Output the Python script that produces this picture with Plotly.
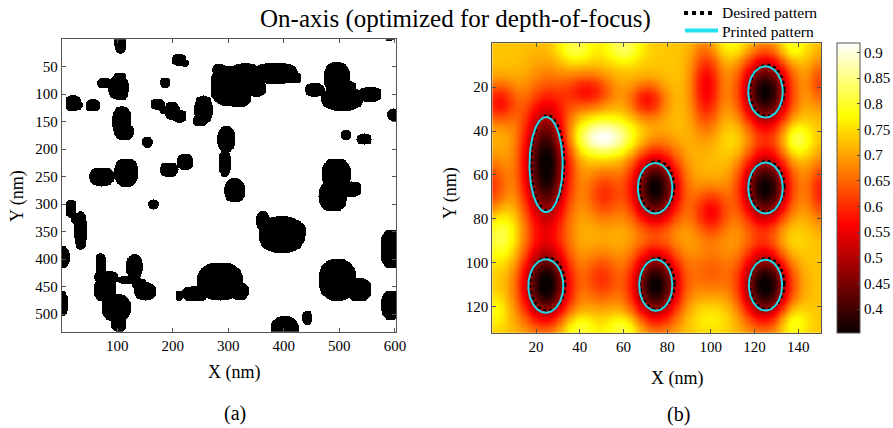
import numpy as np
import plotly.graph_objects as go

W, H = 893, 428

# ---------------- (a) binary mask: blobs as unions of rounded ellipses (nm) ----------------
blob_cx = [105.5, 211, 222, 185.5,
           102, 104, 76, 110,
           20, 30, 56,
           108, 112, 154,
           172, 198, 212, 185,
           300, 330, 385, 318, 418, 350, 283, 255, 248,
           296, 293, 311,
           72, 116, 193, 222, 165,
           17, 34, 26, 3, 0,
           70, 78, 98, 103, 131, 120, 150, 80, 140,
           285, 320, 240, 212,
           396, 362, 420, 401, 442,
           495, 505, 455, 555, 518,
           597, 511.5, 544.5,
           494, 522, 488,
           592, 496, 535, 592, 590]
blob_cy = [5, 38, 44, 79,
           88, 72, 80, 100,
           116, 120, 120.5,
           150, 168, 187,
           118, 130, 140, 128,
           85, 70, 62, 108, 70, 90, 55, 128, 148,
           182, 225, 275,
           250, 242, 237, 223, 300,
           308, 348, 326, 396, 481,
           410, 455, 488, 518, 413, 437, 458, 432, 445,
           440, 458, 462, 466,
           355, 330, 350, 530, 506,
           70, 108, 92, 100, 90,
           137, 174, 181.5,
           245, 272, 285,
           381, 437, 455, 483, 0]
blob_rx = [11.5, 13, 7, 9.5,
           19, 12, 12, 10,
           14, 8, 13,
           17, 18, 10,
           13, 14, 13, 10,
           33, 30, 40, 22, 13, 18, 12, 17, 12,
           16, 11, 19,
           23, 22, 17, 15, 9.5,
           10, 12, 10, 11, 12,
           10, 21, 26, 14, 15, 22, 20, 22, 14,
           42, 17, 25, 7,
           42, 12, 19, 26, 9.5,
           24, 38, 18, 21, 12,
           11, 9, 13.5,
           26, 18, 26,
           19, 34, 23, 17, 7]
blob_ry = [21, 11, 6, 9,
           22, 12, 10, 10,
           15, 8, 11.5,
           29, 15, 10,
           10, 16, 12, 8,
           36, 27, 20, 15, 11, 14, 10, 26, 11,
           24, 25, 22,
           17, 26, 13, 15, 9,
           17, 35, 10, 20, 23,
           22, 22, 26, 14, 22, 8, 16, 12, 10,
           34, 16, 14, 9,
           33, 18, 20, 27, 12.5,
           29, 22, 12, 14, 14,
           11, 9, 10.5,
           29, 14, 28,
           35, 38, 21, 27, 4]
blob_roundness = 2.4  # exponent of the blob outline (2 = ellipse)

# ---------------- (b) aerial image features (nm) ----------------
base_level = 0.73
# contact holes (dark)
hole_x = [24.6, 74.6, 125.0, 125.0, 24.6, 74.8, 125.0]
hole_y = [55.3, 66.0, 22.2, 66.0, 110.6, 110.3, 110.3]
hole_sx = [7.6, 8.0, 8.0, 8.0, 8.0, 8.0, 8.0]
hole_sy = [21.0, 11.8, 11.8, 11.8, 12.0, 11.8, 11.8]
hole_amp = [-0.39, -0.38, -0.38, -0.38, -0.38, -0.38, -0.39]
# side lobes (bright) and valleys (dark)
lobe_x = [51, 139, 4, 38, 60, 110, 137, 39, 60, 137, 135, 2, 112, 100, 75,
          98, 3, 44, 71, 150, 51, 100, 151, 0, 50, 100]
lobe_y = [43, 44, 87, 2, 2, 1, 2, 130, 130, 127, 90, 122, 44, 125, 88,
          20, 27, 22, 26, 18, 69, 77, 67, 66, 107, 104]
lobe_sx = [10, 5, 6, 6, 6, 7, 5, 6, 6, 5, 6, 4, 6, 8, 8,
           5, 6, 8, 6, 4, 6, 6, 5, 5, 6, 7]
lobe_sy = [6, 6, 9, 5, 5, 5, 5, 5, 5, 6, 8, 6, 7, 6, 5,
           14, 7, 6, 6, 8, 9, 8, 10, 10, 9, 9]
lobe_amp = [0.19, 0.11, 0.10, 0.09, 0.10, 0.06, 0.08, 0.09, 0.09, 0.09, 0.05, 0.05, 0.04, 0.04, 0.03,
            -0.17, -0.15, -0.15, -0.15, -0.10, -0.12, -0.16, -0.14, -0.12, -0.12, -0.08]

# desired / printed pattern ellipses (nm)
desired_x = [25.3, 75.3, 125.7, 125.7, 25.3, 75.5, 125.7]
desired_y = [54.5, 65.3, 21.5, 65.3, 109.9, 109.6, 109.6]
desired_rx = [7.6, 7.9, 7.9, 7.9, 8.0, 7.9, 7.9]
desired_ry = [21.7, 11.6, 11.7, 11.6, 12.1, 11.7, 11.6]
printed_x = [24.6, 74.5, 125.0, 125.0, 24.5, 74.8, 125.0]
printed_y = [55.3, 66.1, 22.2, 66.0, 110.7, 110.3, 110.3]
printed_rx = [7.6, 7.9, 7.9, 7.9, 8.0, 7.6, 7.6]
printed_ry = [21.7, 11.5, 11.7, 11.6, 12.2, 11.7, 11.6]

cbar_ticks = [0.4, 0.45, 0.5, 0.55, 0.6, 0.65, 0.7, 0.75, 0.8, 0.85, 0.9]
a_xticks = [100, 200, 300, 400, 500, 600]
a_yticks = [50, 100, 150, 200, 250, 300, 350, 400, 450, 500]
b_xticks = [20, 40, 60, 80, 100, 120, 140]
b_yticks = [20, 40, 60, 80, 100, 120]

FONT = "Liberation Serif, Times New Roman, serif"

# ---- build mask grid ----
xa = np.arange(0, 603, 1.5)
ya = np.arange(0, 533, 1.5)
XA, YA = np.meshgrid(xa, ya)
mask = np.zeros_like(XA, dtype=np.int8)
for cx, cy, rx, ry in zip(blob_cx, blob_cy, blob_rx, blob_ry):
    inside = np.abs((XA - cx) / rx) ** blob_roundness + np.abs((YA - cy) / ry) ** blob_roundness <= 1
    mask[inside] = 1

# ---- build intensity field ----
xb = np.arange(0, 150.6, 0.5)
yb = np.arange(0, 132.1, 0.5)
XB, YB = np.meshgrid(xb, yb)
field = np.full_like(XB, base_level)
for x, y, sx, sy, a in list(zip(hole_x, hole_y, hole_sx, hole_sy, hole_amp)) + \
        list(zip(lobe_x, lobe_y, lobe_sx, lobe_sy, lobe_amp)):
    field += a * np.exp(-0.5 * (((XB - x) / sx) ** 2 + ((YB - y) / sy) ** 2))
field = np.round(np.clip(field, 0.353, 0.918), 4)

hot = [[0.0, "rgb(10,0,0)"], [0.375, "rgb(255,0,0)"],
       [0.75, "rgb(255,255,0)"], [1.0, "rgb(255,255,255)"]]


def ellipse_path(cxs, cys, rxs, rys):
    t = np.linspace(0, 2 * np.pi, 160)
    xs, ys = [], []
    for cx, cy, rx, ry in zip(cxs, cys, rxs, rys):
        xs += list(cx + rx * np.cos(t)) + [None]
        ys += list(cy + ry * np.sin(t)) + [None]
    return xs, ys


fig = go.Figure()
fig.add_trace(go.Heatmap(x=xa, y=ya, z=mask, colorscale=[[0, "white"], [1, "black"]],
                         zmin=0, zmax=1, showscale=False, hoverinfo="skip",
                         xaxis="x", yaxis="y"))
fig.add_trace(go.Heatmap(x=xb, y=yb, z=field, colorscale=hot, zmin=0.353, zmax=0.918,
                         xaxis="x2", yaxis="y2", hoverinfo="skip",
                         colorbar=dict(x=837.3 / W, xanchor="left", xpad=0, ypad=0,
                                       y=1 - 188.3 / H, yanchor="middle",
                                       len=290, lenmode="pixels", thickness=23,
                                       outlinewidth=1, outlinecolor="#555",
                                       ticks="inside", ticklen=3, tickcolor="#444",
                                       tickvals=cbar_ticks,
                                       ticktext=[str(v) for v in cbar_ticks],
                                       tickfont=dict(family=FONT, size=15, color="black"))))
dx, dy = ellipse_path(desired_x, desired_y, desired_rx, desired_ry)
fig.add_trace(go.Scatter(x=dx, y=dy, mode="lines", xaxis="x2", yaxis="y2",
                         line=dict(color="black", width=2.5, dash="dot"),
                         showlegend=False, hoverinfo="skip"))
px_, py_ = ellipse_path(printed_x, printed_y, printed_rx, printed_ry)
fig.add_trace(go.Scatter(x=px_, y=py_, mode="lines", xaxis="x2", yaxis="y2",
                         line=dict(color="#22d8e8", width=2),
                         showlegend=False, hoverinfo="skip"))

axis_common = dict(showgrid=False, zeroline=False, showline=True, linecolor="#555",
                   linewidth=1, mirror="ticks", ticks="inside", ticklen=4,
                   tickcolor="#555", tickfont=dict(family=FONT, size=15, color="black"))

fig.update_layout(
    width=W, height=H, autosize=False,
    font=dict(family=FONT, color="black"),
    margin=dict(l=0, r=0, t=0, b=0, autoexpand=False),
    paper_bgcolor="white", plot_bgcolor="white",
    showlegend=False,
    xaxis=dict(domain=[61.8 / W, 396 / W], range=[0, 602], tickvals=a_xticks, **axis_common),
    yaxis=dict(domain=[1 - 331.7 / H, 1 - 39.2 / H], range=[532, 0], tickvals=a_yticks,
               **axis_common),
    xaxis2=dict(domain=[492.3 / W, 821 / W], range=[0, 150.4], tickvals=b_xticks,
                anchor="y2", **axis_common),
    yaxis2=dict(domain=[1 - 332.7 / H, 1 - 43.3 / H], range=[132, 0], tickvals=b_yticks,
                anchor="x2", **axis_common),
)

ann = []


def add_text(text, xpx, ypx, size, angle=0, xanchor="center"):
    ann.append(dict(text=text, x=xpx / W, y=1 - ypx / H, xref="paper", yref="paper",
                    showarrow=False, textangle=angle, xanchor=xanchor, yanchor="middle",
                    font=dict(family=FONT, size=size, color="black")))


add_text("On-axis (optimized for depth-of-focus)", 455, 19, 25)
add_text("Desired pattern", 720, 12.7, 15.5, xanchor="left")
add_text("Printed pattern", 720, 31.7, 15.5, xanchor="left")
add_text("X (nm)", 234, 372, 18)
add_text("X (nm)", 677, 378, 18)
add_text("Y (nm)", 18, 196, 18, angle=-90)
add_text("Y (nm)", 450, 193, 18, angle=-90)
add_text("(a)", 235, 413, 20)
add_text("(b)", 678, 414, 20)
fig.update_layout(annotations=ann)

fig.update_layout(shapes=[
    dict(type="line", xref="paper", yref="paper", x0=684 / W, x1=716 / W,
         y0=1 - 13 / H, y1=1 - 13 / H, line=dict(color="black", width=4, dash="dot")),
    dict(type="line", xref="paper", yref="paper", x0=685 / W, x1=718 / W,
         y0=1 - 30.5 / H, y1=1 - 30.5 / H, line=dict(color="#22e0f0", width=4)),
])

fig.write_html("out.html", config={"displayModeBar": False},
               post_script="document.body.style.margin='0px';")
